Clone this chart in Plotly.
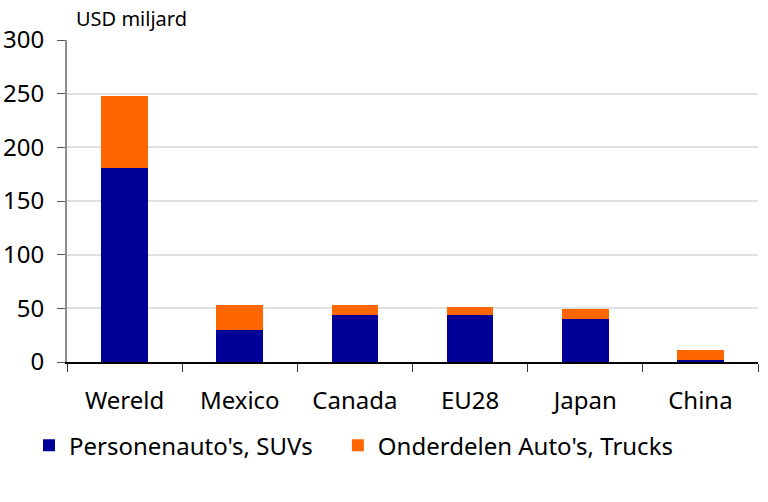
import plotly.graph_objects as go

categories = ["Wereld", "Mexico", "Canada", "EU28", "Japan", "China"]
personenautos = [181, 30, 44, 44, 40, 1.6]
onderdelen = [66.5, 23.5, 9, 7.5, 9, 9.8]
series_names = ["Personenauto's, SUVs", "Onderdelen Auto's, Trucks"]
y_ticks = [0, 50, 100, 150, 200, 250, 300]

FONT = "Noto Sans"

fig = go.Figure()
fig.add_trace(go.Bar(x=categories, y=personenautos, name=series_names[0],
                     marker=dict(color="#000099", line=dict(width=0)), legend="legend"))
fig.add_trace(go.Bar(x=categories, y=onderdelen, name=series_names[1],
                     marker=dict(color="#FF6600", line=dict(width=0)), legend="legend2"))

leg_common = dict(orientation="h", xanchor="left", y=-0.19, yanchor="top",
                  font=dict(family=FONT, size=24, color="#000000"),
                  itemwidth=30, bgcolor="rgba(0,0,0,0)")

fig.update_layout(
    barmode="stack",
    bargap=0.595,
    width=768, height=502,
    margin=dict(l=67, r=10, t=40, b=140),
    plot_bgcolor="white", paper_bgcolor="white",
    font=dict(family=FONT, size=24, color="#000000"),
    showlegend=True,
    legend=dict(x=-0.055, **leg_common),
    legend2=dict(x=0.392, **leg_common),
    annotations=[dict(text="USD miljard", xref="paper", yref="paper",
                      x=0.01, y=1.018, xanchor="left", yanchor="bottom",
                      showarrow=False, font=dict(family=FONT, size=20, color="#000000"))],
)
fig.update_yaxes(range=[0, 300], tickvals=y_ticks, showgrid=True, gridcolor="#e0e0e0",
                 gridwidth=2, showline=True, linecolor="#8c8c8c", linewidth=2,
                 ticks="outside", ticklen=8, tickcolor="#555555", tickwidth=1,
                 ticklabelstandoff=8, zeroline=False, automargin=False,
                 tickfont=dict(family=FONT, size=24, color="#000000"))
fig.update_xaxes(showline=True, linecolor="#000000", linewidth=1.5,
                 ticks="outside", tickson="boundaries", ticklen=8, tickcolor="#333333",
                 ticklabelstandoff=16, automargin=False,
                 tickfont=dict(family=FONT, size=24, color="#000000"))

fig.write_html("out.html", config={"displayModeBar": False},
               post_script="document.body.style.margin='0';document.body.style.padding='0';")
